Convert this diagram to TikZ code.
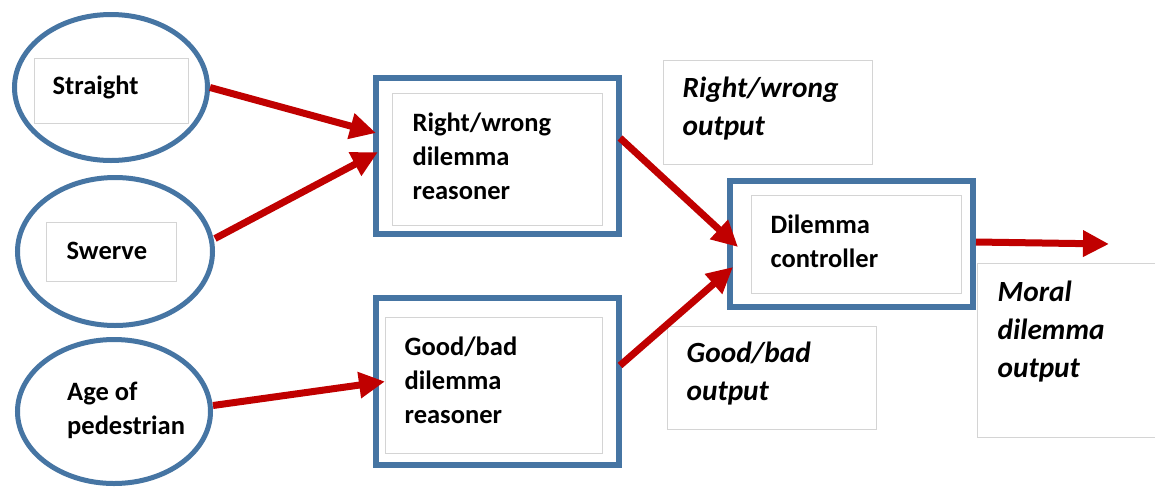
\documentclass[tikz,border=0pt]{standalone}
\usepackage{fontspec}
\setmainfont{Carlito}
\usetikzlibrary{calc,shapes.geometric,arrows.meta}
\definecolor{blueline}{RGB}{70,117,163}
\definecolor{redline}{RGB}{192,0,0}
\definecolor{grayline}{RGB}{212,212,212}
\tikzset{
  inputoval/.style={draw=blueline, line width=5pt, ellipse, inner sep=0pt},
  outerbox/.style={draw=blueline, line width=6pt, rectangle, inner sep=0pt},
  thinbox/.style={draw=grayline, line width=1pt, rectangle, inner sep=0pt},
  lbl/.style={font=\fontsize{26.5}{34}\selectfont\bfseries, align=left, inner sep=0pt, anchor=west},
  ilbl/.style={font=\fontsize{29.3}{38}\selectfont\bfseries\itshape, align=left, inner sep=0pt, anchor=west},
  flow/.style={draw=redline, line width=7pt, -{Triangle[length=26pt,width=25pt]}},
}
\begin{document}
\begin{tikzpicture}[x=1pt,y=-1pt]
\useasboundingbox[fill=white] (0,0) rectangle (1155,488);
% input ovals
\node[inputoval, minimum width=193pt, minimum height=146pt] (st) at (111,87.5) {};
\node[inputoval, minimum width=195pt, minimum height=148pt] (sw) at (115,251.5) {};
\node[inputoval, minimum width=193pt, minimum height=144pt] (ag) at (114,411.5) {};
% inner boxes of ovals
\node[thinbox, minimum width=154pt, minimum height=65pt] (sti) at (111,90.5) {};
\node[thinbox, minimum width=130pt, minimum height=59pt] (swi) at (111,251.5) {};
\node[lbl] (stt) at ($(sti.west)+(19,-3.5)$) {Straight};
\node[lbl] (swt) at ($(swi.west)+(21,-0.5)$) {Swerve};
\node[lbl] (agt) at (67,410.5) {Age of\\pedestrian};
% reasoners
\node[outerbox, minimum width=243pt, minimum height=156pt] (rw) at (497.5,156) {};
\node[outerbox, minimum width=243pt, minimum height=167pt] (gb) at (497.5,381.5) {};
\node[thinbox, minimum width=210pt, minimum height=132pt] (rwi) at (497,159) {};
\node[thinbox, minimum width=217pt, minimum height=136pt] (gbi) at (493.5,385) {};
\node[lbl] (rwt) at ($(rwi.west)+(21,-2.3)$) {Right/wrong\\dilemma\\reasoner};
\node[lbl] (gbt) at ($(gbi.west)+(20,-4.7)$) {Good/bad\\dilemma\\reasoner};
% controller
\node[outerbox, minimum width=243pt, minimum height=126pt] (dc) at (851.5,244) {};
\node[thinbox, minimum width=210pt, minimum height=98pt] (dci) at (856,244) {};
\node[lbl] (dct) at ($(dci.west)+(20,-3)$) {Dilemma\\controller};
% output labels
\node[thinbox, minimum width=209pt, minimum height=104pt] (rwo) at (767.5,112) {};
\node[ilbl] (rwot) at ($(rwo.west)+(20,-3)$) {Right/wrong\\output};
\node[thinbox, minimum width=209pt, minimum height=103pt] (gbo) at (771.5,377.5) {};
\node[ilbl] (gbot) at ($(gbo.west)+(20,-3.5)$) {Good/bad\\output};
\node[thinbox, minimum width=190pt, minimum height=174pt] (mo) at (1072,350) {};
\node[ilbl] (mot) at ($(mo.west)+(21,-18)$) {Moral\\dilemma\\output};
% connectors
\coordinate (out) at (1109,244);
\draw[flow] (st.east) -- ($(rw.west)+(3,-23)$);
\draw[flow] ($(sw.east)+(0,-13)$) -- ($(rw.west)+(5,-4)$);
\draw[flow] ($(ag.east)+(0,-6)$) -- ($(gb.west)+(12,0)$);
\draw[flow] ($(rw.east)+(-2,-18)$) -- ($(dc.west)+(11,3)$);
\draw[flow] ($(gb.east)+(-2,-16)$) -- ($(dc.west)+(6,23)$);
\draw[flow] ($(dc.east)+(0,-2)$) -- (out);
\end{tikzpicture}
\end{document}
